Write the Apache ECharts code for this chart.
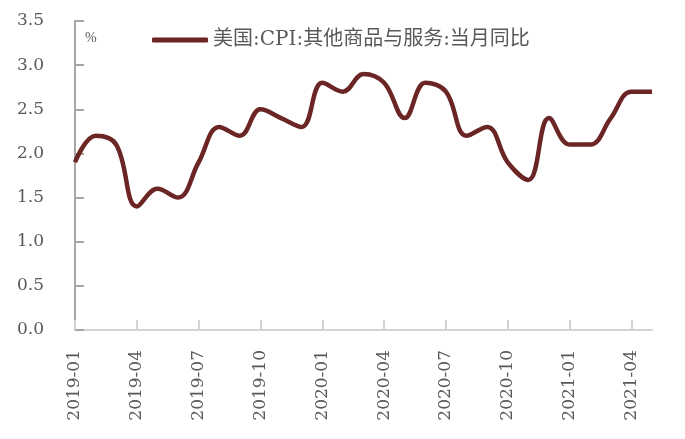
<!DOCTYPE html>
<html><head><meta charset="utf-8">
<script src="https://cdn.jsdelivr.net/npm/echarts@6/dist/echarts.min.js"></script>
<style>html,body{margin:0;padding:0;background:#fff}#c{width:685px;height:439px}</style>
</head><body><div id="c"></div>
<script>
const categories = ['2019-01','2019-02','2019-03','2019-04','2019-05','2019-06','2019-07','2019-08','2019-09','2019-10','2019-11','2019-12',
'2020-01','2020-02','2020-03','2020-04','2020-05','2020-06','2020-07','2020-08','2020-09','2020-10','2020-11','2020-12',
'2021-01','2021-02','2021-03','2021-04','2021-05'];
const values = [1.9,2.2,2.1,1.4,1.6,1.5,1.9,2.3,2.2,2.5,2.4,2.3,
2.8,2.7,2.9,2.8,2.4,2.8,2.7,2.2,2.3,1.9,1.7,2.4,
2.1,2.1,2.4,2.7,2.7];
const seriesName = '美国:CPI:其他商品与服务:当月同比';
const font = '"DejaVu Serif", "Noto Sans CJK SC", serif';
const chart = echarts.init(document.getElementById('c'));
chart.setOption({
  animation:false,
  grid:{left:75,right:33,top:21,bottom:109},
  legend:{left:147,top:25,itemWidth:56,itemHeight:5,itemGap:4,icon:'roundRect',
    textStyle:{color:'#595959',fontSize:20,fontFamily:font},data:[seriesName]},
  graphic:[{type:'text',left:85,top:31,style:{text:'%',fill:'#595959',fontSize:14,fontFamily:'"Liberation Serif", serif'}}],
  xAxis:{type:'category',data:categories,boundaryGap:false,
    axisLine:{lineStyle:{color:'#d3d3d3',width:2}},
    axisTick:{inside:true,length:10,interval:2,lineStyle:{color:'#d3d3d3',width:2}},
    axisLabel:{interval:2,rotate:90,margin:20,color:'#595959',fontSize:17,fontFamily:font}},
  yAxis:{type:'value',min:0,max:3.5,interval:0.5,
    axisLine:{show:true,lineStyle:{color:'#a6a6a6',width:2}},
    axisTick:{show:true,inside:true,length:9,lineStyle:{color:'#a6a6a6',width:2}},
    splitLine:{show:false},
    axisLabel:{formatter:v=>v.toFixed(1),margin:31,color:'#595959',fontSize:17,fontFamily:font}},
  series:[{name:seriesName,type:'line',data:values,smooth:0.4,showSymbol:false,
    lineStyle:{color:'#6b2525',width:4.5},itemStyle:{color:'#6b2525'}}]
});
</script></body></html>
